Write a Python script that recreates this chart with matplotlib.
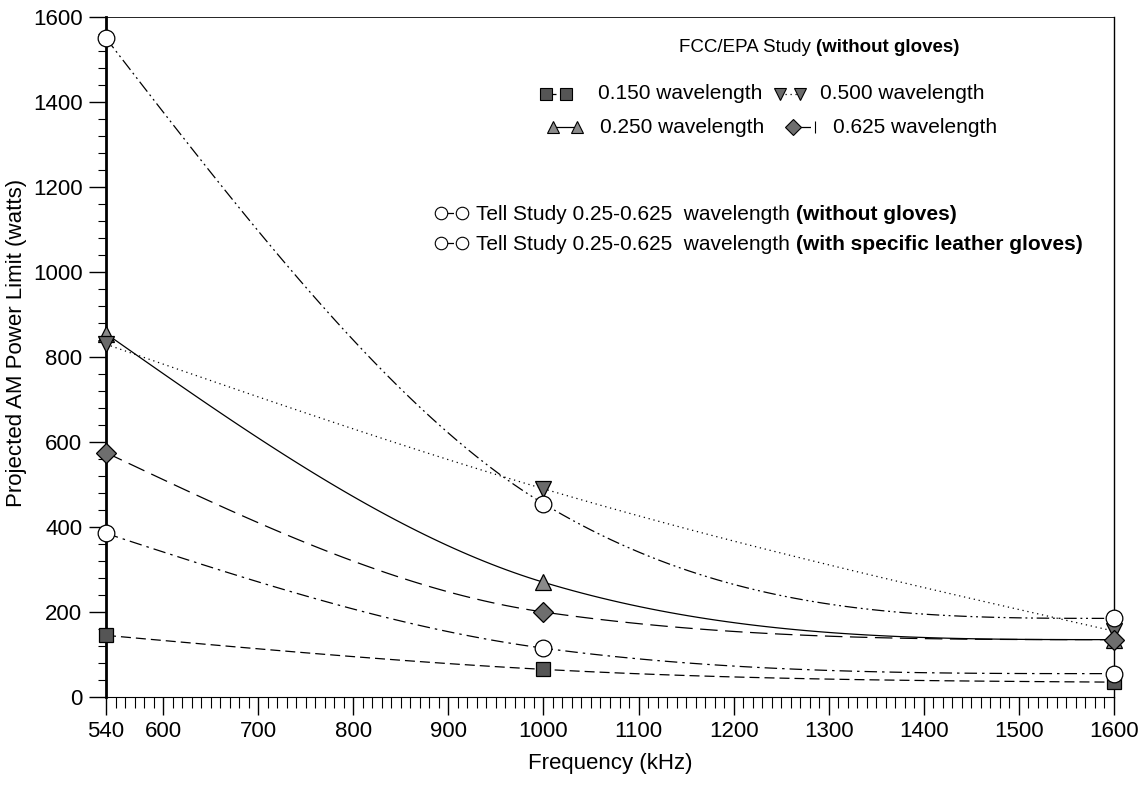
import numpy as np
import matplotlib
matplotlib.use("Agg")
import matplotlib.pyplot as plt
from matplotlib.ticker import MultipleLocator, FixedLocator

plt.rcParams['font.family'] = ['Liberation Sans', 'DejaVu Sans']

# frequencies (kHz) where values were read
freq = [540, 1000, 1600]

# projected AM power limit (watts)
fcc_150 = [145, 65, 35]
fcc_250 = [855, 270, 135]
fcc_500 = [830, 490, 155]
fcc_625 = [575, 200, 135]
tell_nogloves = [385, 115, 55]
tell_gloves = [1550, 455, 185]

xticks = [540, 600, 700, 800, 900, 1000, 1100, 1200, 1300, 1400, 1500, 1600]


def smooth(x, y, n=60):
    # hermite curve through three points, only used to draw the smooth trace
    x = np.asarray(x, float)
    y = np.asarray(y, float)
    h = np.diff(x)
    d = np.diff(y) / h
    m1 = (d[0] * h[1] + d[1] * h[0]) / (h[0] + h[1])
    lim = 3 * d[1]
    if abs(m1) > abs(lim):
        m1 = lim
    m = [(3 * d[0] - m1) / 2, m1, (3 * d[1] - m1) / 2]
    xs_all, ys_all = [], []
    for i in range(2):
        t = np.linspace(0, 1, n)
        h00 = 2 * t**3 - 3 * t**2 + 1
        h10 = t**3 - 2 * t**2 + t
        h01 = -2 * t**3 + 3 * t**2
        h11 = t**3 - t**2
        s = h00 * y[i] + h10 * h[i] * m[i] + h01 * y[i + 1] + h11 * h[i] * m[i + 1]
        xs_all.append(x[i] + t * h[i])
        ys_all.append(s)
    return np.concatenate(xs_all), np.concatenate(ys_all)


fig = plt.figure(figsize=(11.46, 7.93), dpi=100)
ax = fig.add_axes([106/1146, 96/793, 1008/1146, 680/793])

series = [
    (fcc_150, 's', '#555555', (0, (8, 4)), 10),
    (fcc_250, '^', '#8a8a8a', '-', 11),
    (fcc_500, 'v', '#6a6a6a', (0, (1, 3)), 11),
    (fcc_625, 'D', '#6e6e6e', (0, (14, 6)), 10),
    (tell_nogloves, 'o', 'white', (0, (10, 4, 2, 4)), 12),
    (tell_gloves, 'o', 'white', (0, (10, 3, 1.5, 3, 1.5, 3)), 12),
]

for vals, mk, fc, ls, ms in series:
    xs, ys = smooth(freq, vals)
    ax.plot(xs, ys, color='black', lw=0.9, ls=ls, zorder=2)
    ax.plot(freq, vals, ls='none', marker=mk, ms=ms, mfc=fc, mec='black',
            mew=0.9, zorder=3, clip_on=False)

ax.set_xlim(540, 1600)
ax.set_ylim(0, 1600)
ax.xaxis.set_major_locator(FixedLocator(xticks))
ax.xaxis.set_minor_locator(MultipleLocator(10))
ax.yaxis.set_major_locator(MultipleLocator(200))
ax.yaxis.set_minor_locator(MultipleLocator(40))

ax.tick_params(axis='both', which='major', labelsize=16, direction='out', width=1)
ax.tick_params(axis='x', which='major', length=13, pad=4)
ax.tick_params(axis='x', which='minor', length=8, width=0.8)
ax.tick_params(axis='y', which='major', length=12, pad=5)
ax.tick_params(axis='y', which='minor', length=6, width=0.8)

ax.spines['left'].set_linewidth(2)
ax.spines['bottom'].set_linewidth(0.8)
ax.spines['top'].set_linewidth(0.6)
ax.spines['top'].set_linestyle((0, (3, 1)))
ax.spines['right'].set_linewidth(1)

ax.set_xlabel('Frequency (kHz)', fontsize=16, labelpad=8)
ax.set_ylabel('Projected AM Power Limit (watts)', fontsize=16, labelpad=6)
ax.yaxis.set_label_coords(-0.078, 0.52)


def mixed(x, y, normal, bold, size=15):
    t = ax.text(x, y, normal, transform=ax.transAxes, fontsize=size,
                ha='left', va='bottom')
    ax.annotate(bold, xy=(1, 0), xycoords=t, fontsize=size,
                fontweight='bold', ha='left', va='bottom')


def handle(x0, x1, y, mk, fc, ls, ms, second=None):
    ax.plot([x0, x1], [y, y], transform=ax.transAxes, color='black', lw=0.9,
            ls=ls, clip_on=False)
    ax.plot([x0], [y], transform=ax.transAxes, ls='none', marker=mk, ms=ms,
            mfc=fc, mec='black', mew=0.8, clip_on=False)
    ax.plot([x1], [y], transform=ax.transAxes, ls='none', marker=second or mk,
            ms=ms, mfc=fc, mec='black', mew=0.8, clip_on=False)


mixed(0.568, 0.942, 'FCC/EPA Study ', '(without gloves)', size=13.5)

rows = [
    (0.887, 0.437, 0.456, 0.488, series[0], '0.150 wavelength', None),
    (0.887, 0.669, 0.688, 0.708, series[2], '0.500 wavelength', None),
    (0.838, 0.443, 0.467, 0.490, series[1], '0.250 wavelength', None),
    (0.838, 0.682, 0.703, 0.721, series[3], '0.625 wavelength', '|'),
]
for y, x0, x1, xt, s, lab, sec in rows:
    handle(x0, x1, y, s[1], s[2], s[3], s[4] - 2, second=sec)
    ax.text(xt, y, lab, transform=ax.transAxes, fontsize=15, va='center')

tell_rows = [
    (0.712, series[4], '(without gloves)'),
    (0.668, series[5], '(with specific leather gloves)'),
]
for y, s, bold in tell_rows:
    handle(0.332, 0.353, y, s[1], s[2], s[3], s[4] - 3)
    mixed(0.367, y - 0.017, 'Tell Study 0.25-0.625  wavelength ', bold)

fig.savefig('out.png', dpi=100)
